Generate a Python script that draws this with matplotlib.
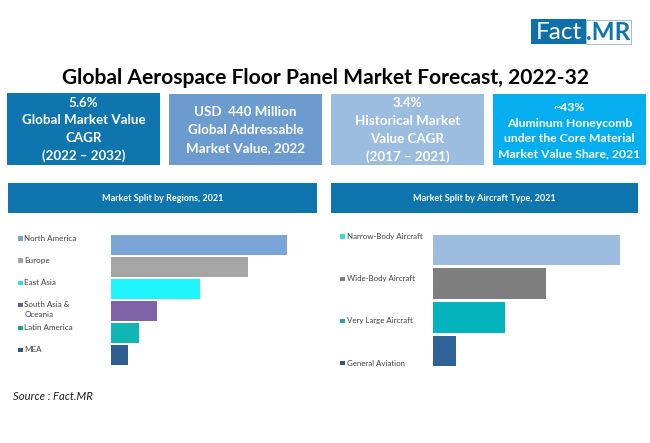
import matplotlib
matplotlib.use("Agg")
import matplotlib.pyplot as plt
from matplotlib.patches import Rectangle

plt.rcParams['font.family'] = ['Lato', 'DejaVu Sans']

W, H = 650, 443
title = "Global Aerospace Floor Panel Market Forecast, 2022-32"
kpi_lines = [
    ["5.6%", "Global Market Value", "CAGR", "(2022 – 2032)"],
    ["USD  440 Million", "Global Addressable", "Market Value, 2022"],
    ["3.4%", "Historical Market", "Value CAGR", "(2017 – 2021)"],
    ["~43%", "Aluminum Honeycomb", "under the Core Material", "Market Value Share, 2021"],
]
regions_title = "Market Split by Regions, 2021"
regions = ["North America", "Europe", "East Asia", "South Asia &\nOceania", "Latin America", "MEA"]
regions_values = [35.7, 27.8, 18.0, 9.4, 5.7, 3.4]
regions_colors = ["#7BA4D8", "#A5A5A5", "#1FF5FF", "#7F62A8", "#12B5B5", "#2F5F92"]
regions_marks = ["#7BA4C8", "#A5A5A5", "#33DDDD", "#6A5A9A", "#12A0A5", "#2F5585"]
aircraft_title = "Market Split by Aircraft Type, 2021"
aircraft = ["Narrow-Body Aircraft", "Wide-Body Aircraft", "Very Large Aircraft", "General Aviation"]
aircraft_values = [47.3, 28.6, 18.2, 5.7]
aircraft_colors = ["#9DBDE0", "#7F7F7F", "#05B3BC", "#2F6296"]
aircraft_marks = ["#33DDDD", "#7F7F7F", "#2A9DB0", "#2F5585"]

fig = plt.figure(figsize=(W / 100, H / 100), dpi=100, facecolor="white")


def px_axes(x0, y0, x1, y1, **kw):
    return fig.add_axes([x0 / W, 1 - y1 / H, (x1 - x0) / W, (y1 - y0) / H], **kw)


ov = px_axes(0, 0, W, H)
ov.set_xlim(0, W)
ov.set_ylim(H, 0)
ov.axis("off")


def box(x0, y0, x1, y1, color, **kw):
    ov.add_patch(Rectangle((x0, y0), x1 - x0, y1 - y0, facecolor=color, edgecolor="none", **kw))


# logo
box(531, 19, 586, 44, "#0F6FA8")
ov.add_patch(Rectangle((586, 19.5), 45, 24.5, facecolor="white", edgecolor="#8FB4CF", lw=0.6))
ov.text(558.5, 32, "Fact", color="white", fontsize=17.5, ha="center", va="center")
ov.text(608.5, 32, ".MR", color="#0F75AE", fontsize=17.5, ha="center", va="center", fontweight="bold")

ov.text(325, 78, title, fontsize=15.1, fontweight="bold", ha="center", va="center", color="black")

# KPI boxes
kpi_boxes = [(7, 93, 160, 165), (169, 94, 322, 165), (331, 94, 484, 165), (493, 94, 646, 165)]
kpi_colors = ["#0F75AE", "#6C9BCF", "#9DBDE0", "#05AEEF"]
kpi_y = [[103, 120, 138, 156], [112, 130, 148], [103, 121, 139, 157], [107, 123, 138, 154]]
kpi_size = [9.6, 9.6, 9.6, 8.8]
for (x0, y0, x1, y1), c, lines, ys, fs in zip(kpi_boxes, kpi_colors, kpi_lines, kpi_y, kpi_size):
    box(x0, y0, x1, y1, c)
    for s, y in zip(lines, ys):
        ov.text((x0 + x1) / 2, y, s, color="white", fontsize=fs, fontweight="bold",
                ha="center", va="center")

# panel headers
for x0, x1, s in [(8, 317, regions_title), (331, 638, aircraft_title)]:
    box(x0, 183.3, x1, 213.3, "#0F75AE")
    ov.text((x0 + x1) / 2, 198.5, s, color="white", fontsize=6.5, fontweight="bold",
            ha="center", va="center")


def bars(x0, x1, y0, y1, vals, colors, px_per_unit, height):
    ax = px_axes(x0, y0, x1, y1)
    ax.patch.set_alpha(0)
    ax.barh(range(len(vals)), vals, color=colors, height=height)
    ax.set_xlim(0, (x1 - x0) / px_per_unit)
    ax.set_ylim(len(vals) - 0.5, -0.5)
    ax.axis("off")


bars(111, 311, 234, 366, regions_values, regions_colors, 176 / 35.7, 0.9)
bars(433, 633, 233, 368, aircraft_values, aircraft_colors, 187 / 47.3, 0.9)

# category labels with small markers
region_y = [238.3, 260.5, 283, 305, 328, 350]
for s, y, c in zip(regions, region_y, regions_marks):
    ov.add_patch(Rectangle((18, y - 2.3), 4.5, 4.5, facecolor=c, edgecolor="none"))
    ov.text(24.5, y - 3.8, s, fontsize=5.8, color="#404040", ha="left", va="top", linespacing=1.45)

air_y = [236.5, 279, 321, 363]
for s, y, c in zip(aircraft, air_y, aircraft_marks):
    ov.add_patch(Rectangle((340.3, y - 2.3), 4.5, 4.5, facecolor=c, edgecolor="none"))
    ov.text(347.3, y, s, fontsize=5.7, color="#404040", ha="left", va="center")

ov.text(13, 397, "Source : Fact.MR", fontsize=8.1, fontstyle="italic", color="#202020",
        ha="left", va="center")

fig.savefig("out.png", dpi=100, facecolor="white")
